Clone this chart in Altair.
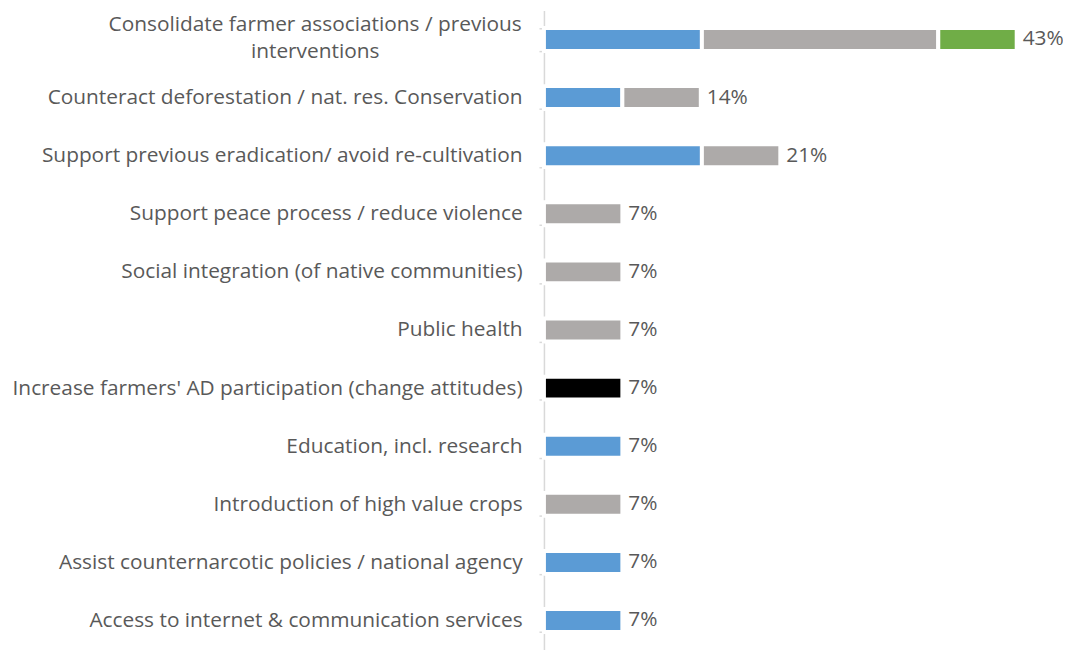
import altair as alt
import pandas as pd

categories = [
    "Consolidate farmer associations / previous interventions",
    "Counteract deforestation / nat. res. Conservation",
    "Support previous eradication/ avoid re-cultivation",
    "Support peace process / reduce violence",
    "Social integration (of native communities)",
    "Public health",
    "Increase farmers' AD participation (change attitudes)",
    "Education, incl. research",
    "Introduction of high value crops",
    "Assist counternarcotic policies / national agency",
    "Access to internet & communication services",
]
blue = [14.3, 7.1, 14.3, 0, 0, 0, 0, 7.1, 0, 7.1, 7.1]
gray = [21.4, 7.1, 7.1, 7.1, 7.1, 7.1, 0, 0, 7.1, 0, 0]
green = [7.1, 0, 0, 0, 0, 0, 0, 0, 0, 0, 0]
black = [0, 0, 0, 0, 0, 0, 7.1, 0, 0, 0, 0]
totals = ["43%", "14%", "21%", "7%", "7%", "7%", "7%", "7%", "7%", "7%", "7%"]

series_names = ["blue", "gray", "green", "black"]
series_vals = [blue, gray, green, black]
series_colors = ["#5B9BD5", "#ADAAA9", "#70AD47", "#000000"]

rows = []
for si, (name, vals) in enumerate(zip(series_names, series_vals)):
    for c, v in zip(categories, vals):
        if v > 0:
            rows.append({"category": c, "series": name, "order": si, "value": v})
df = pd.DataFrame(rows)
df_tot = pd.DataFrame({"category": categories,
                       "total": [b + g + gr + bk for b, g, gr, bk in zip(blue, gray, green, black)],
                       "label": totals})

two_line = categories[0]
label_expr = (f"datum.value == '{two_line}' ? "
              "['Consolidate farmer associations / previous', 'interventions'] : datum.value")
is_two = f"datum.value == '{two_line}'"

FONT = "Open Sans"
FS = 21

y_enc = alt.Y("category:N", sort=categories, title=None,
              scale=alt.Scale(paddingInner=0.606, paddingOuter=0.303),
              axis=alt.Axis(labelFont=FONT, labelFontSize=FS, labelColor="#595959",
                            labelLimit=700,
                            labelPadding={"condition": {"test": is_two, "value": 226}, "value": 17},
                            labelAlign={"condition": {"test": is_two, "value": "center"}, "value": "right"},
                            labelOffset={"condition": {"test": is_two, "value": -15}, "value": 0},
                            domainColor="#D9D9D9", domainWidth=1.5,
                            tickColor="#D9D9D9", tickWidth=1.5, tickSize=5,
                            tickBand="extent", labelExpr=label_expr, labelLineHeight=27))

x_scale = alt.Scale(domain=[0, 42.5], nice=False, zero=True)

bars = alt.Chart(df).mark_bar(stroke="white", strokeWidth=4).encode(
    x=alt.X("value:Q", stack="zero", scale=x_scale, axis=None),
    y=y_enc,
    color=alt.Color("series:N", scale=alt.Scale(domain=series_names, range=series_colors), legend=None),
    order=alt.Order("order:Q"),
)

text = alt.Chart(df_tot).mark_text(align="left", baseline="middle", dx=6, font=FONT,
                                   fontSize=FS, color="#595959").encode(
    x=alt.X("total:Q", scale=x_scale, axis=None),
    y=alt.Y("category:N", sort=categories, title=None),
    text="label:N",
)

chart = (bars + text).properties(
    width=473, height=644,
    background="white",
    autosize=alt.AutoSizeParams(type="none"),
    padding={"left": 540, "top": 0, "right": 50, "bottom": 0},
).configure_view(stroke="transparent")

chart.save("out.html", embed_options={"renderer": "svg", "actions": False})
